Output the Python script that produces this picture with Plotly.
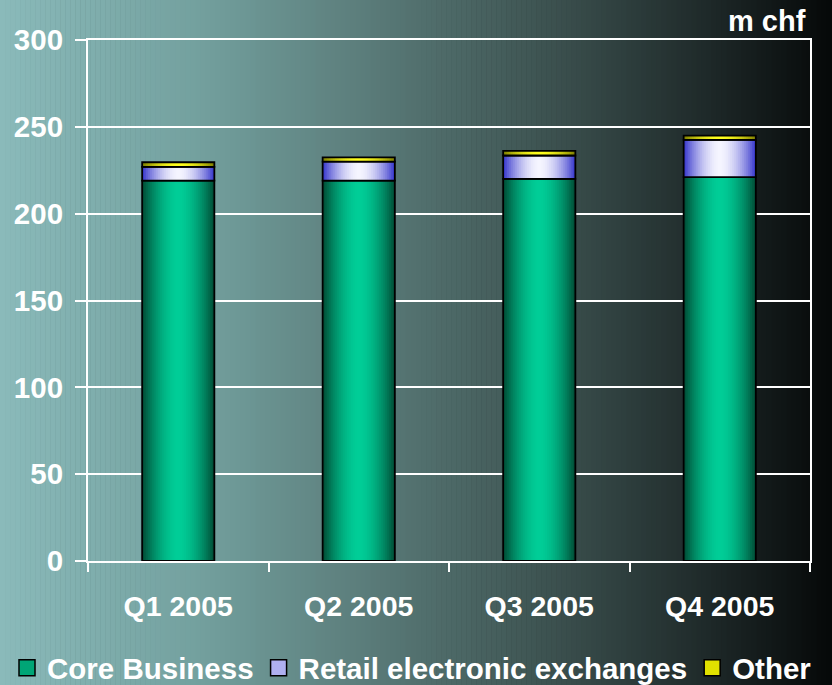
import plotly.graph_objects as go

# Quarterly revenue, m chf
quarters = ["Q1 2005", "Q2 2005", "Q3 2005", "Q4 2005"]
core_business = [219, 219, 220, 221]
retail_exchanges = [8, 11, 13.5, 21.5]
other = [2.6, 2.4, 2.6, 2.4]

y_ticks = [0, 50, 100, 150, 200, 250, 300]

# name, values, edge colour, centre colour, legend swatch colour
series = [
    ("Core Business", core_business, (0, 80, 56), (0, 206, 152), (0, 165, 118)),
    ("Retail electronic exchanges", retail_exchanges, (60, 60, 205), (246, 246, 255), (175, 175, 240)),
    ("Other", other, (130, 130, 0), (255, 255, 30), (225, 225, 0)),
]

W, H = 832, 685
L, R, T, B = 88, 22, 40, 124
PLOT_W = W - L - R
PLOT_H = H - T - B
BAR_W = 0.4
LAYERS = 18
FONT = "Liberation Sans, Arial, sans-serif"


def mix(a, b, t):
    return tuple(round(a[i] + (b[i] - a[i]) * t) for i in range(3))


def rgb(c):
    return f"rgb({c[0]},{c[1]},{c[2]})"


fig = go.Figure()

# Stacked bars; each segment is built from nested bars of shrinking width
# so that it shades from a dark edge to a bright centre like a cylinder.
bases = [0] * len(quarters)
for name, vals, edge, centre, swatch in series:
    for k in range(LAYERS):
        frac = 1 - k / LAYERS
        colour = mix(centre, edge, frac ** 1.8)
        fig.add_trace(go.Bar(
            x=quarters, y=vals, base=bases,
            width=[BAR_W * frac] * len(quarters),
            marker=dict(color=rgb(colour), line=dict(width=0)),
            showlegend=False, hoverinfo="skip", legendgroup=name,
        ))
    fig.add_trace(go.Bar(
        x=quarters, y=vals, base=bases,
        width=[BAR_W] * len(quarters),
        marker=dict(color="rgba(0,0,0,0)", line=dict(color="black", width=1.8)),
        name=name, showlegend=False, legendgroup=name,
    ))
    fig.add_trace(go.Scatter(
        x=[None], y=[None], mode="markers", name=name, legendgroup=name,
        marker=dict(symbol="square", size=16, color=rgb(swatch),
                    line=dict(color="black", width=1.5)),
    ))
    bases = [b + v for b, v in zip(bases, vals)]

# Horizontal background gradient: pale teal on the left fading to black
stops = [
    (0.0, (138, 186, 186)),
    (0.24, (115, 160, 158)),
    (0.43, (92, 126, 124)),
    (0.65, (62, 84, 82)),
    (0.865, (28, 38, 38)),
    (1.0, (5, 8, 8)),
]


def bg_colour(t):
    for (t0, c0), (t1, c1) in zip(stops[:-1], stops[1:]):
        if t <= t1:
            return mix(c0, c1, (t - t0) / (t1 - t0))
    return stops[-1][1]


N = 166
shapes = []
y_bottom = -B / PLOT_H
y_top = 1 + T / PLOT_H
for i in range(N):
    px0 = i * W / N
    px1 = (i + 1) * W / N + 0.6
    shapes.append(dict(
        type="rect", xref="paper", yref="paper", layer="below",
        x0=(px0 - L) / PLOT_W, x1=(px1 - L) / PLOT_W,
        y0=y_bottom, y1=y_top,
        fillcolor=rgb(bg_colour((i + 0.5) / N)), line=dict(width=0),
    ))

fig.update_layout(
    width=W, height=H,
    margin=dict(l=L, r=R, t=T, b=B, autoexpand=False),
    barmode="overlay",
    paper_bgcolor="rgb(0,0,0)",
    plot_bgcolor="rgba(0,0,0,0)",
    shapes=shapes,
    font=dict(family=FONT, color="white", weight="bold"),
    showlegend=True,
    legend=dict(
        orientation="h", xref="paper", yref="paper",
        x=(7 - L) / PLOT_W, xanchor="left",
        y=(PLOT_H + T - 668) / PLOT_H, yanchor="middle",
        font=dict(size=29.5, family=FONT, color="white", weight="bold"),
        bgcolor="rgba(0,0,0,0)", itemsizing="trace",
    ),
    annotations=[dict(
        text="m chf", xref="paper", yref="paper",
        x=(808 - L) / PLOT_W, xanchor="right",
        y=1 + (T - 21) / PLOT_H, yanchor="middle",
        showarrow=False,
        font=dict(size=29, family=FONT, color="white", weight="bold"),
    )],
)

fig.update_yaxes(
    range=[0, 300], tickvals=y_ticks,
    showgrid=True, gridcolor="white", gridwidth=2,
    showline=True, linecolor="white", linewidth=2, mirror=True,
    ticks="outside", ticklen=11, tickcolor="white", tickwidth=2,
    zeroline=False,
    tickfont=dict(size=29.5, family=FONT, color="white", weight="bold"),
    ticklabelstandoff=6,
)
fig.update_xaxes(
    type="category", categoryorder="array", categoryarray=quarters,
    showgrid=False,
    showline=True, linecolor="white", linewidth=2, mirror=True,
    ticks="outside", tickson="boundaries", ticklen=9,
    tickcolor="white", tickwidth=2,
    tickfont=dict(size=28.5, family=FONT, color="white", weight="bold"),
    ticklabelstandoff=19,
)

fig.write_html("out.html")
